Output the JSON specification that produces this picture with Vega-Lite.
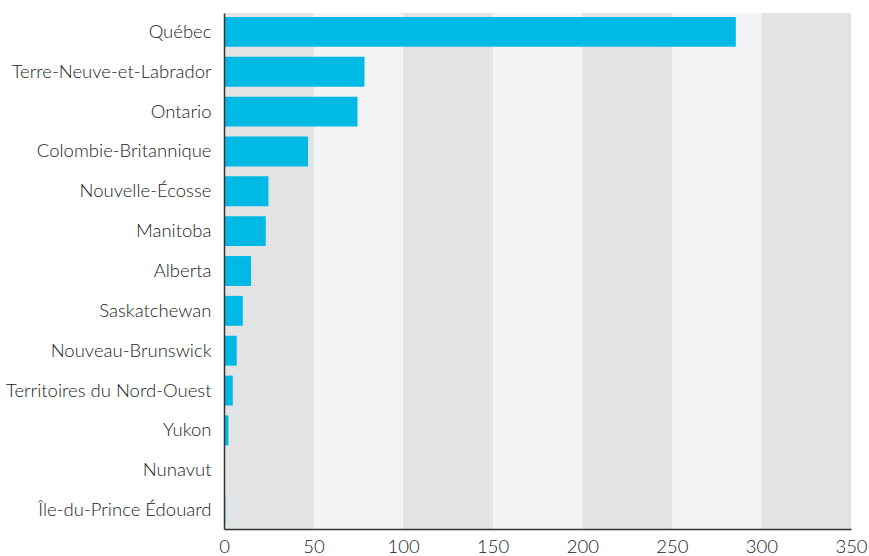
{
  "$schema": "https://vega.github.io/schema/vega-lite/v6.json",
  "width": 627,
  "height": 516,
  "autosize": {"type": "none"},
  "padding": {"left": 224, "top": 13, "right": 18, "bottom": 27},
  "background": "white",
  "config": {
    "view": {"fill": "#f3f4f6", "stroke": null},
    "font": "Lato"
  },
  "datasets": {
    "bars": [
      {"province": "Québec", "value": 285.7},
      {"province": "Terre-Neuve-et-Labrador", "value": 78.4},
      {"province": "Ontario", "value": 74.5},
      {"province": "Colombie-Britannique", "value": 46.9},
      {"province": "Nouvelle-Écosse", "value": 24.8},
      {"province": "Manitoba", "value": 23.3},
      {"province": "Alberta", "value": 15.1},
      {"province": "Saskatchewan", "value": 10.5},
      {"province": "Nouveau-Brunswick", "value": 7.1},
      {"province": "Territoires du Nord-Ouest", "value": 4.9},
      {"province": "Yukon", "value": 2.5},
      {"province": "Nunavut", "value": 0},
      {"province": "Île-du-Prince Édouard", "value": 0.7}
    ],
    "bands": [
      {"start": 0, "end": 50},
      {"start": 100, "end": 150},
      {"start": 200, "end": 250},
      {"start": 300, "end": 350}
    ]
  },
  "layer": [
    {
      "data": {"name": "bands"},
      "mark": {"type": "rect", "fill": "#e2e3e5"},
      "encoding": {
        "x": {
          "field": "start",
          "type": "quantitative",
          "scale": {"domain": [0, 350], "nice": false},
          "axis": {
            "title": null,
            "values": [0, 50, 100, 150, 200, 250, 300, 350],
            "ticks": false,
            "grid": false,
            "zindex": 2,
            "domainColor": "#333333",
            "domainWidth": 1.5,
            "labelFontSize": 18.5,
            "labelFontWeight": 300,
            "labelColor": "#222222",
            "labelBaseline": "bottom",
            "labelPadding": 27,
            "labelFlush": false
          }
        },
        "x2": {"field": "end"}
      }
    },
    {
      "data": {"name": "bars"},
      "mark": {"type": "bar", "color": "#00b9e4"},
      "encoding": {
        "y": {
          "field": "province",
          "type": "nominal",
          "sort": null,
          "scale": {"paddingInner": 0.25, "paddingOuter": 0.1},
          "axis": {
            "title": null,
            "ticks": false,
            "zindex": 2,
            "domainColor": "#333333",
            "domainWidth": 1.5,
            "labelFontSize": 18.5,
            "labelFontWeight": 300,
            "labelColor": "#222222",
            "labelPadding": 13,
            "labelLimit": 300
          }
        },
        "x": {
          "field": "value",
          "type": "quantitative"
        }
      }
    }
  ]
}
